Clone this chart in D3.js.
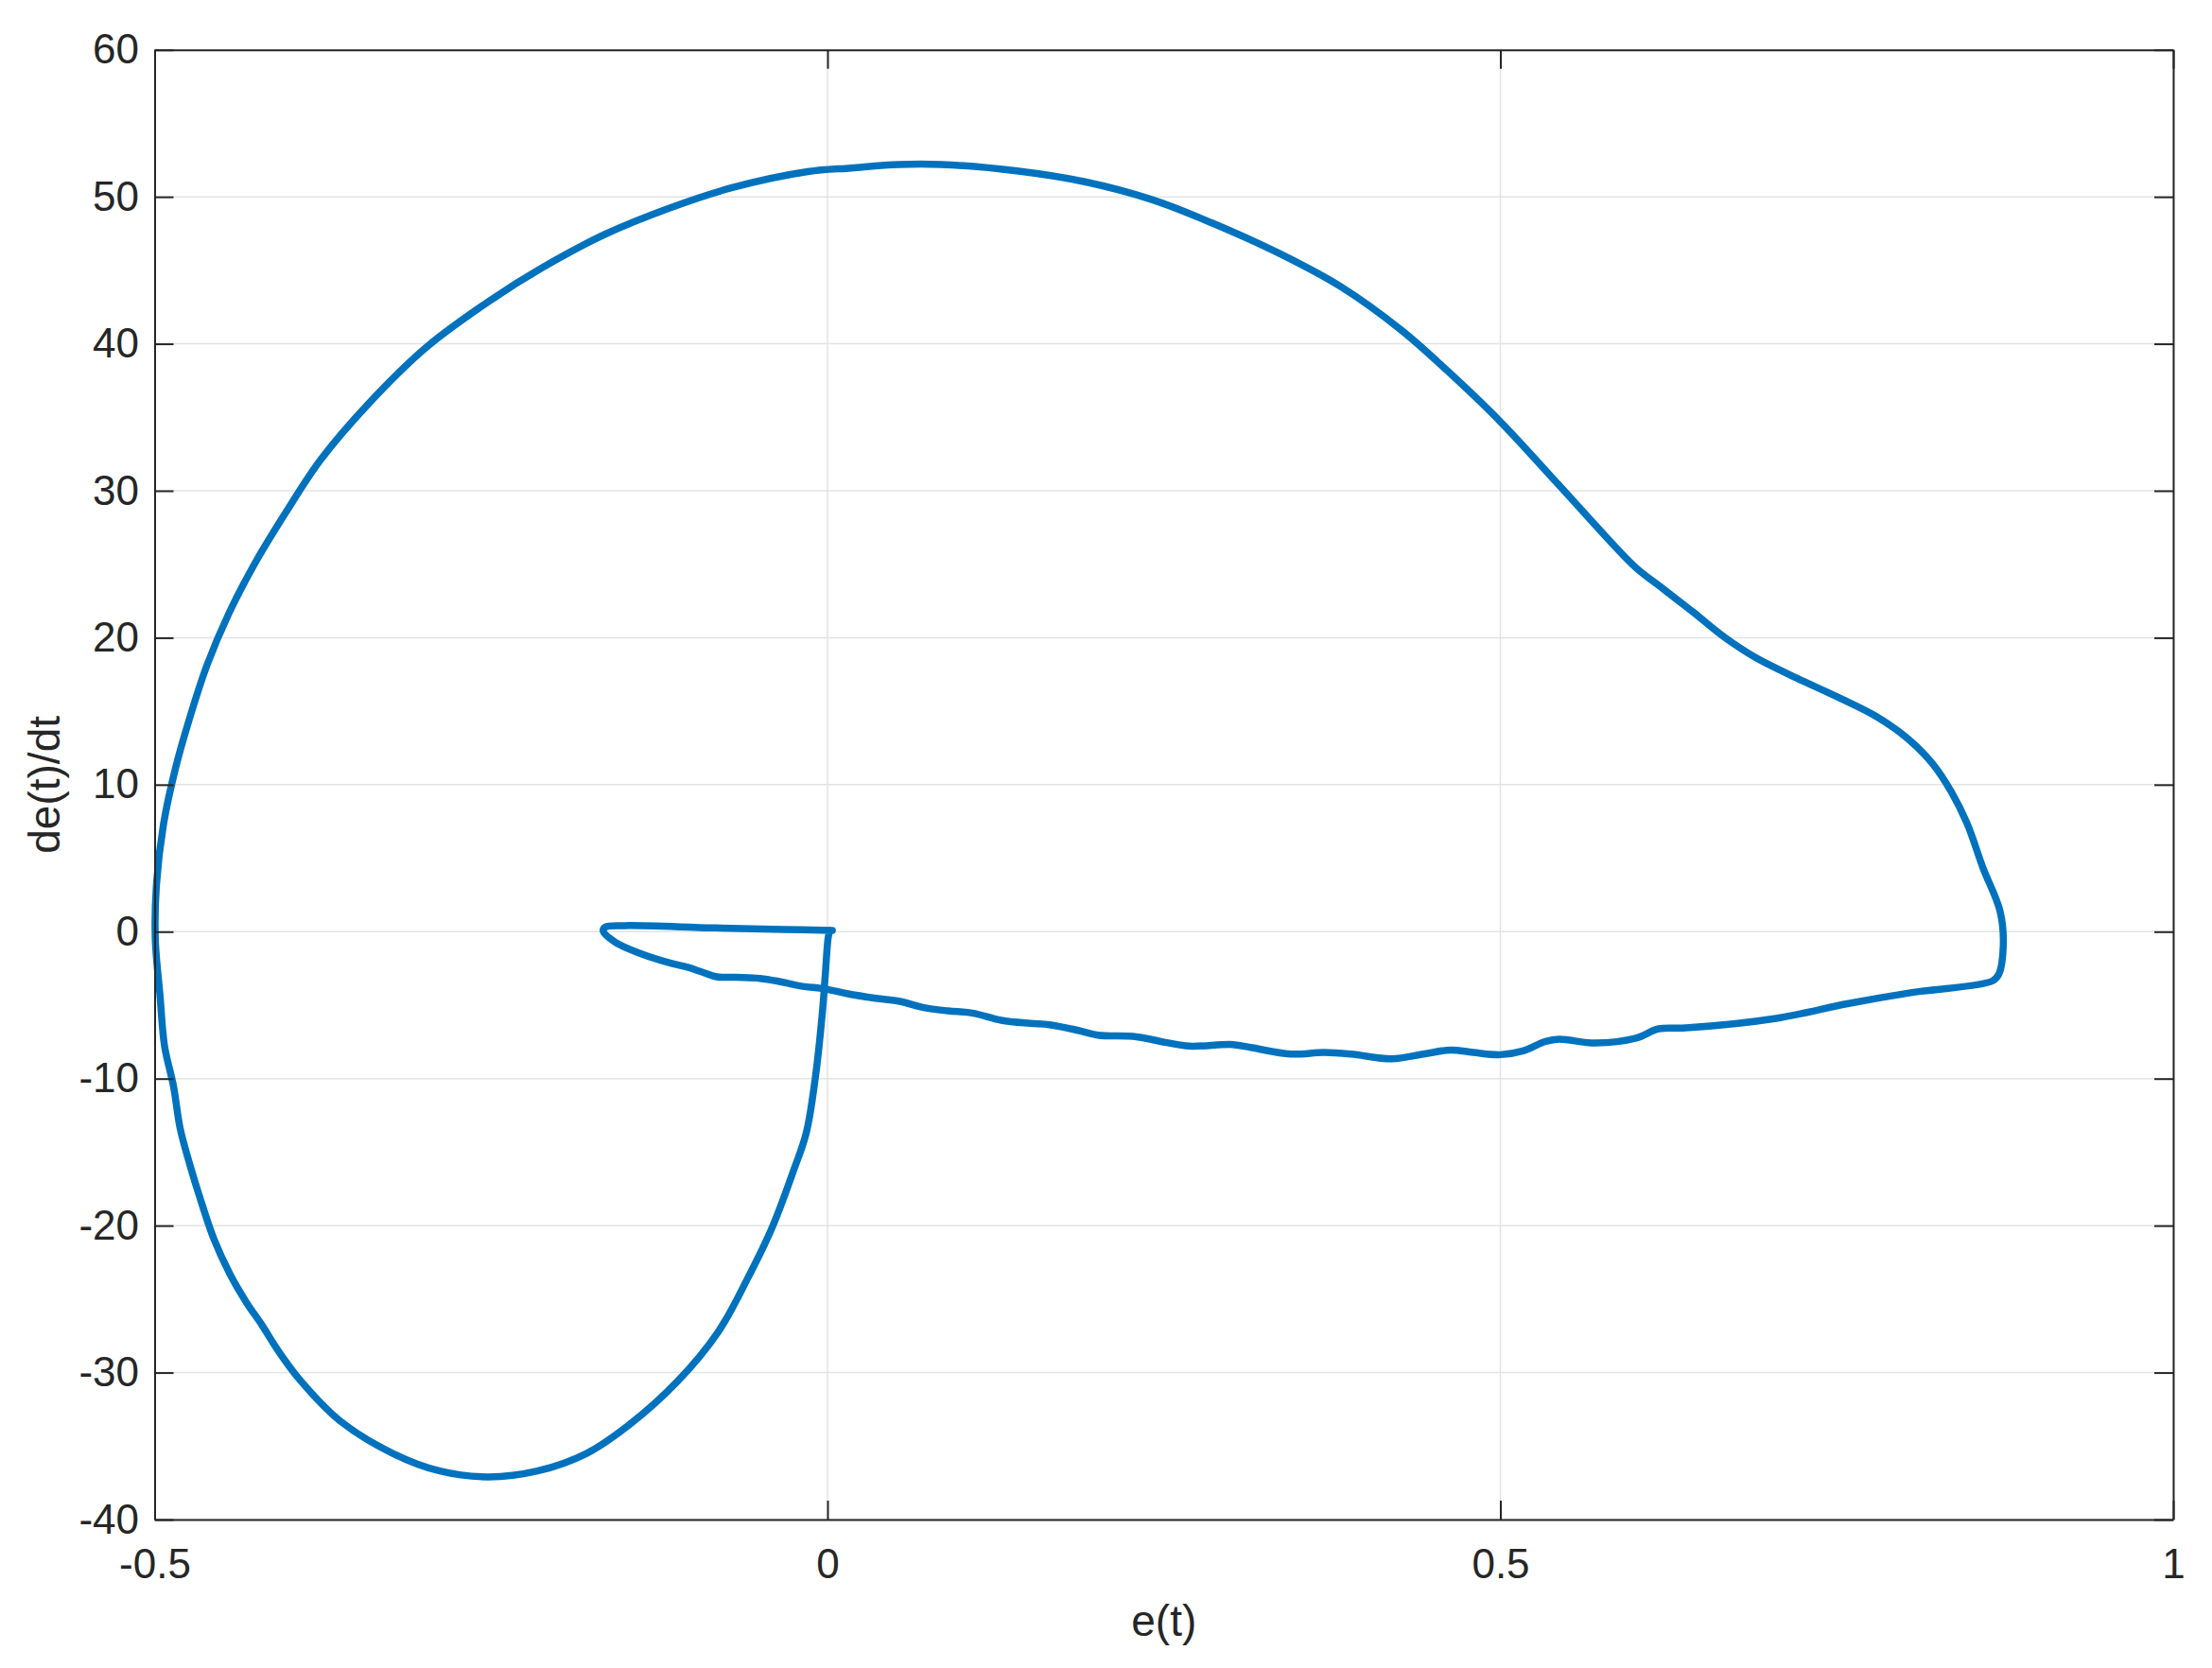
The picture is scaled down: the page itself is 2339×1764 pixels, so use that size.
<!DOCTYPE html>
<meta charset="utf-8">
<style>
body {
	margin: 0;
	background-color: #ffffff;
	font-family: "Liberation Sans", Arial, sans-serif;
}

.axis text {
	font-size: 44px;
	fill: #262626;
	font-family: "Liberation Sans", Arial, sans-serif;
}

.axis line, .axis path {
	fill: none;
	stroke: #262626;
	stroke-width: 2;
}

.grid line {
	stroke: #e3e3e3;
	stroke-width: 1.5;
}
</style>
<body>
<script src="https://d3js.org/d3.v7.min.js"></script>
<script>
// tick values and labels
var xTicks = [-0.5, 0, 0.5, 1];
var xTickLabels = ['-0.5', '0', '0.5', '1'];
var yTicks = [-40, -30, -20, -10, 0, 10, 20, 30, 40, 50, 60];
var yTickLabels = ['-40', '-30', '-20', '-10', '0', '10', '20', '30', '40', '50', '60'];

// phase trajectory (e(t) and de(t)/dt)
var eVals = [
	0.002, 0.0007, -0.0017, -0.004, -0.009, -0.0158, -0.0258, -0.041, -0.0594, -0.081,
	-0.1115, -0.148, -0.179, -0.2156, -0.2525, -0.288, -0.323, -0.362, -0.392, -0.409,
	-0.420, -0.432, -0.444, -0.456, -0.466, -0.474, -0.481, -0.486, -0.4926, -0.496,
	-0.4995, -0.4987, -0.4934, -0.4844, -0.4736, -0.4611, -0.445, -0.4252, -0.402, -0.3768,
	-0.341, -0.298, -0.2513, -0.2119, -0.1653, -0.1187, -0.0721, -0.0147, 0.0176, 0.0527,
	0.0848, 0.1408, 0.1913, 0.2417, 0.2865, 0.337, 0.3817, 0.4265, 0.4602, 0.4994,
	0.5442, 0.5834, 0.6008, 0.6219, 0.6430, 0.6664, 0.6898, 0.7203, 0.7507, 0.7788,
	0.8023, 0.8210, 0.8351, 0.8468, 0.8585, 0.8714, 0.8737, 0.8702, 0.8655,
	0.8059, 0.7588, 0.705, 0.6378, 0.6176, 0.6008, 0.5706, 0.5437, 0.5336, 0.5168,
	0.5, 0.4798, 0.463, 0.4429, 0.4193, 0.3891, 0.3689, 0.3442, 0.3155, 0.3012,
	0.2689, 0.251, 0.2295, 0.2008, 0.1864, 0.1649, 0.1506, 0.1291, 0.1076, 0.0896,
	0.0717, 0.0538, 0.0359, 0.0143, 0, -0.0215, -0.0359, -0.0502, -0.0681, -0.0825,
	-0.0932, -0.104, -0.1183, -0.1398, -0.1578, -0.1667, -0.1649, -0.1506, -0.086, -0.0323,
	0.0036
];
var deVals = [
	0.09, -0.3, -3.0, -5.7, -9.9, -13.7, -16.4, -20.1, -23.6, -27.2,
	-30.6, -33.6, -35.5, -36.7, -37.1, -36.7, -35.5, -33.3, -30.5, -28.4,
	-26.8, -25.2, -23.3, -20.9, -18.2, -15.8, -13.4, -10.5, -7.8, -4.33,
	-0.5, 3.12, 7.31, 11.15, 14.64, 18.13, 21.62, 25.11, 28.6, 32.09,
	35.93, 39.77, 42.91, 45.18, 47.45, 49.19, 50.59, 51.71, 51.96, 52.2,
	52.2, 51.76, 51.02, 49.79, 48.19, 46.09, 43.87, 40.92, 38.2, 34.76,
	30.32, 26.38, 24.76, 23.26, 21.76, 20.04, 18.64, 17.25, 15.96, 14.67,
	13.17, 11.45, 9.52, 7.37, 4.37, 1.36, -0.99, -2.93, -3.36,
	-4.14, -4.89, -5.90, -6.55, -6.61, -7.25, -7.58, -7.32, -7.47, -8.11,
	-8.37, -8.22, -8.05, -8.33, -8.65, -8.33, -8.22, -8.33, -7.90, -7.68,
	-7.79, -7.53, -7.15, -7.04, -6.72, -6.33, -6.24, -6.03, -5.54, -5.39,
	-5.17, -4.74, -4.53, -4.21, -3.93, -3.67, -3.39, -3.18, -3.11, -3.07,
	-2.75, -2.42, -2.10, -1.46, -0.71, 0.04, 0.32, 0.41, 0.26, 0.15,
	0.09
];

var width = 2339;
var height = 1764;
var margin = {left: 163.5, right: 41, top: 52.7, bottom: 157};
var plotW = width - margin.left - margin.right;
var plotH = height - margin.top - margin.bottom;

var svg = d3.select('body')
	.append('svg')
	.attr('width', width)
	.attr('height', height);

var g = svg.append('g')
	.attr('transform', 'translate(' + margin.left + ',' + margin.top + ')');

var x = d3.scaleLinear().domain([-0.5, 1]).range([0, plotW]);
var y = d3.scaleLinear().domain([-40, 60]).range([plotH, 0]);

// grid
var grid = g.append('g').attr('class', 'grid');
grid.selectAll('.gx')
	.data(xTicks)
	.enter()
	.append('line')
	.attr('x1', function(d) { return x(d); })
	.attr('x2', function(d) { return x(d); })
	.attr('y1', 0)
	.attr('y2', plotH);
grid.selectAll('.gy')
	.data(yTicks)
	.enter()
	.append('line')
	.attr('x1', 0)
	.attr('x2', plotW)
	.attr('y1', function(d) { return y(d); })
	.attr('y2', function(d) { return y(d); });

// the trajectory
var pts = eVals.map(function(e, i) { return [e, deVals[i]]; });
var line = d3.line()
	.x(function(d) { return x(d[0]); })
	.y(function(d) { return y(d[1]); })
	.curve(d3.curveCatmullRom.alpha(0.5));

g.append('path')
	.datum(pts)
	.attr('d', line)
	.style('fill', 'none')
	.style('stroke', '#0072BD')
	.style('stroke-width', 7.5)
	.style('stroke-linejoin', 'round')
	.style('stroke-linecap', 'round');

// axes, ticks pointing inside on all four sides
var tickLen = 20;

g.append('g')
	.attr('class', 'x axis')
	.attr('transform', 'translate(0,' + plotH + ')')
	.call(d3.axisBottom(x)
		.tickValues(xTicks)
		.tickFormat(function(d, i) { return xTickLabels[i]; })
		.tickSizeInner(-tickLen)
		.tickSizeOuter(0)
		.tickPadding(31));

g.append('g')
	.attr('class', 'x axis')
	.call(d3.axisTop(x)
		.tickValues(xTicks)
		.tickFormat('')
		.tickSizeInner(-tickLen)
		.tickSizeOuter(0));

g.append('g')
	.attr('class', 'y axis')
	.call(d3.axisLeft(y)
		.tickValues(yTicks)
		.tickFormat(function(d, i) { return yTickLabels[i]; })
		.tickSizeInner(-tickLen)
		.tickSizeOuter(0)
		.tickPadding(16.5));

g.append('g')
	.attr('class', 'y axis')
	.attr('transform', 'translate(' + plotW + ',0)')
	.call(d3.axisRight(y)
		.tickValues(yTicks)
		.tickFormat('')
		.tickSizeInner(-tickLen)
		.tickSizeOuter(0));

g.selectAll('.axis text').attr('font-size', null).attr('font-family', null);

// axis labels
svg.append('text')
	.attr('x', margin.left + plotW / 2)
	.attr('y', 1730)
	.attr('text-anchor', 'middle')
	.style('font-size', '46px')
	.style('fill', '#262626')
	.text('e(t)');

svg.append('text')
	.attr('transform', 'translate(63,' + (margin.top + plotH / 2) + ') rotate(-90)')
	.attr('text-anchor', 'middle')
	.style('font-size', '46px')
	.style('fill', '#262626')
	.text('de(t)/dt');
</script>
</body>
